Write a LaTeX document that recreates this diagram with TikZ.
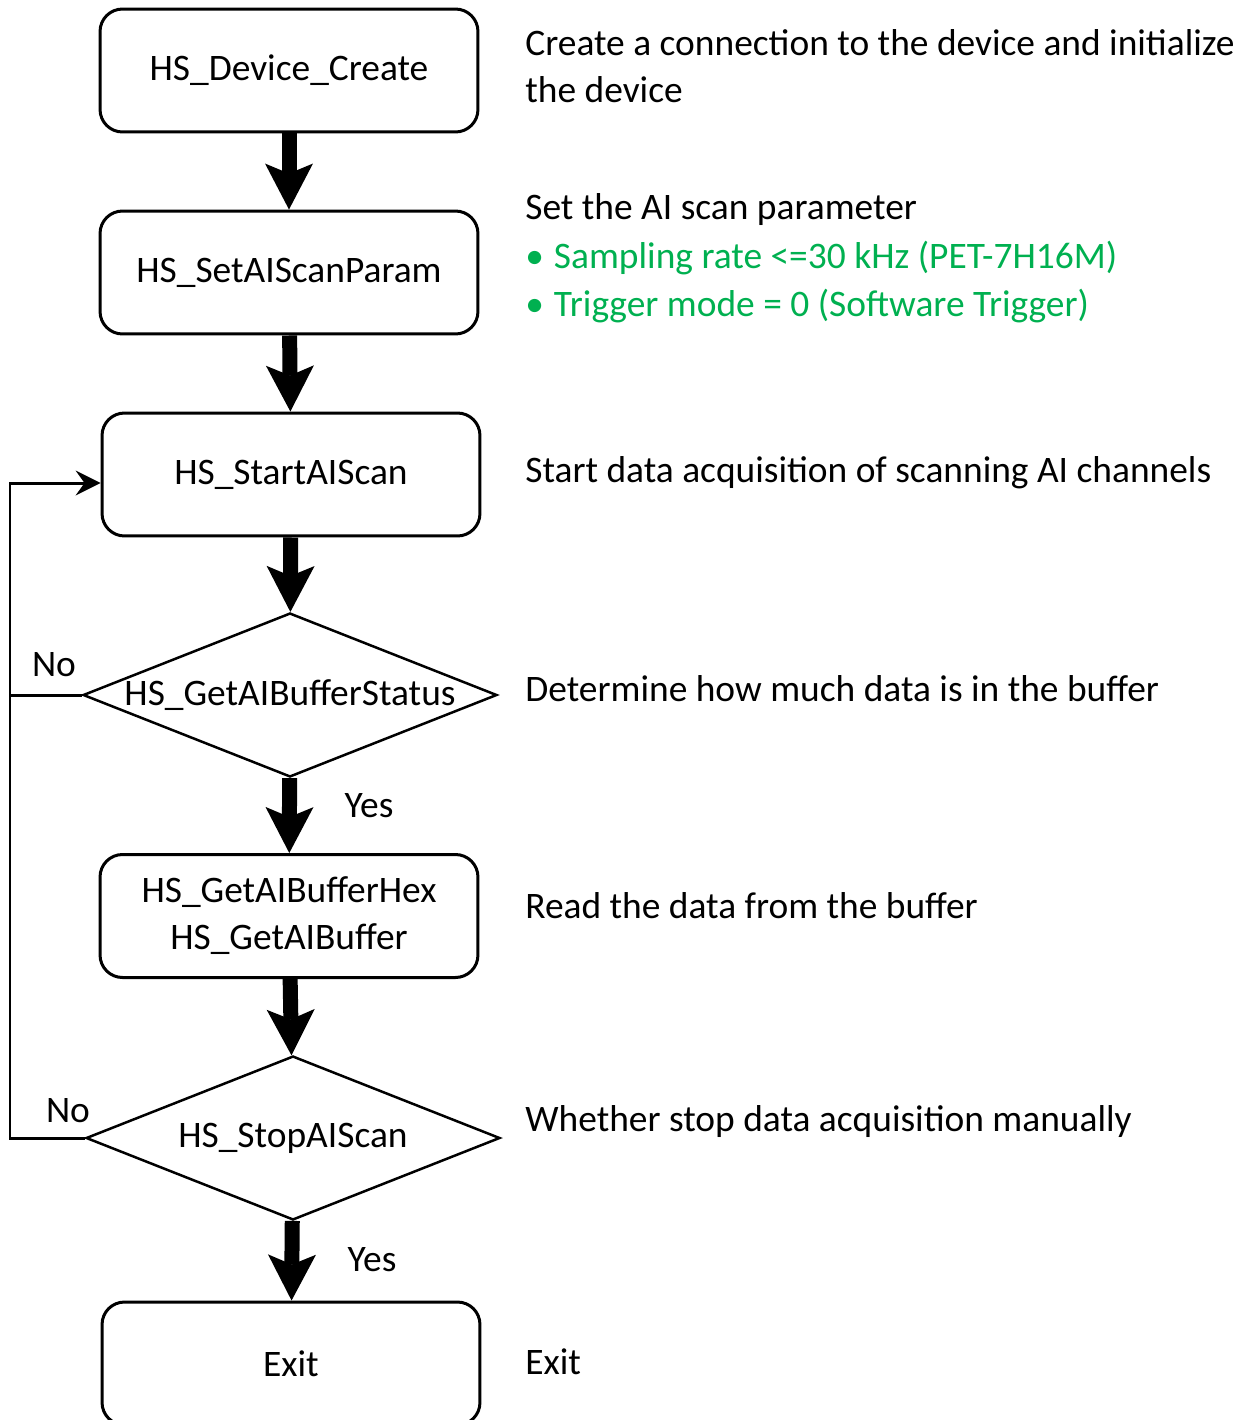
\documentclass[tikz,border=0pt]{standalone}
\usepackage{fontspec}
\setmainfont{Carlito}
\usetikzlibrary{shapes.geometric,arrows.meta}
\definecolor{okgreen}{HTML}{00B050}

\begin{document}
\begin{tikzpicture}[x=0.02cm, y=-0.02cm,
  font=\fontsize{21.3pt}{26.7pt}\selectfont,
  block/.style={draw, line width=0.06cm, rounded corners=0.45cm, minimum width=7.56cm, minimum height=2.46cm, align=center},
  decision/.style={diamond, draw, line width=0.05cm, inner sep=0pt, minimum width=8.28cm, minimum height=3.28cm},
  note/.style={anchor=west, align=left, inner sep=0pt},
  flow/.style={line width=0.3cm, -{Stealth[length=0.92cm, width=0.96cm, inset=0.2cm, line width=0pt]}},
  back/.style={line width=0.06cm, -{Stealth[length=0.5cm, width=0.5cm, inset=0.18cm, line width=0pt]}}]

\useasboundingbox (0,0) rectangle (1245,1420);

% blocks
\node [block] (create) at (289,70.5) {HS\_Device\_Create};
\node [block] (param) at (289,272.5) {HS\_SetAIScanParam};
\node [block] (start) at (291,474.5) {HS\_StartAIScan};
\node [decision] (status) at (290,695) {\makebox[0pt]{HS\_GetAIBufferStatus}};
\node [block] (read) at (289,916) {HS\_GetAIBufferHex\\HS\_GetAIBuffer};
\node [decision] (stop) at (293,1138) {\makebox[0pt]{HS\_StopAIScan}};
\node [block] (exit) at (291,1363.5) {Exit};

% main flow
\draw [flow] (create) -- (param);
\draw [flow] (param) -- (start);
\draw [flow] (start) -- (status);
\draw [flow] (status) -- (read);
\draw [flow] (read) -- (stop);
\draw [flow] (stop) -- (exit);

% loop back
\coordinate (lft) at (10,483);
\draw [back] (stop.west) -| (lft) -- (lft -| start.west);
\draw [line width=0.06cm] (status.west) -- (status.west -| lft);

\node (no1) at (54,665) {No};
\node (no2) at (68,1111) {No};
\node (yes1) at (369,806) {Yes};
\node (yes2) at (372,1260) {Yes};

% descriptions
\node [note] (d1) at (525,66) {Create a connection to the device and initialize\\the device};
\node [note] (d2) at (525,210) {Set the AI scan parameter};
\node [note, okgreen] (d2a) at (525,258) {\textbullet\hspace{0.2cm}Sampling rate <=30 kHz (PET-7H16M)};
\node [note, okgreen] (d2b) at (525,306) {\textbullet\hspace{0.2cm}Trigger mode = 0 (Software Trigger)};
\node [note] (d3) at (525,473) {Start data acquisition of scanning AI channels};
\node [note] (d4) at (525,689) {Determine how much data is in the buffer};
\node [note] (d5) at (525,906) {Read the data from the buffer};
\node [note] (d6) at (525,1122) {Whether stop data acquisition manually};
\node [note] (d7) at (525,1362) {Exit};

\end{tikzpicture}
\end{document}
